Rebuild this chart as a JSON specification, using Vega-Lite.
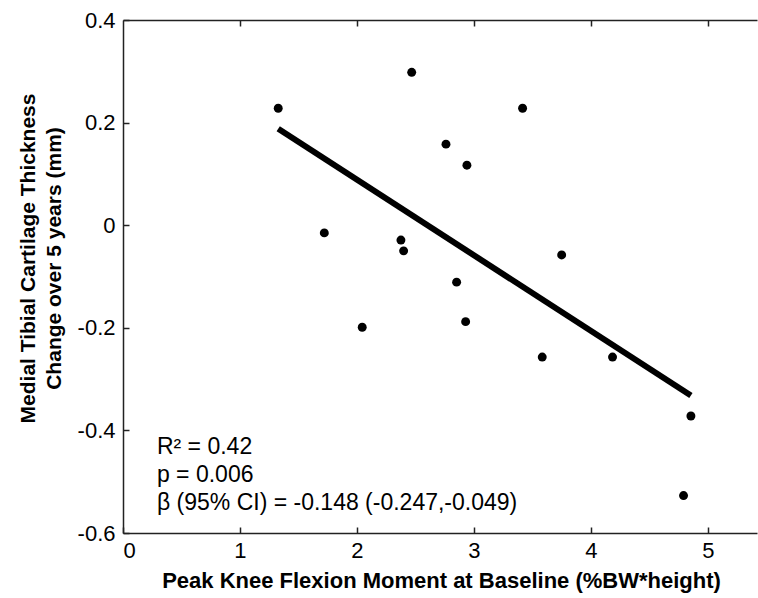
{
  "$schema": "https://vega.github.io/schema/vega-lite/v6.json",
  "width": 634,
  "height": 513,
  "autosize": {"type": "none"},
  "padding": {"left": 123, "top": 20, "right": 1, "bottom": 65},
  "background": "white",
  "config": {
    "view": {"stroke": null},
    "font": "Liberation Sans",
    "axis": {
      "grid": false,
      "domain": true,
      "domainColor": "#222222",
      "domainWidth": 1.5,
      "tickColor": "#222222",
      "tickWidth": 1.5,
      "labelColor": "black",
      "titleColor": "black",
      "labelFont": "Liberation Sans",
      "titleFont": "Liberation Sans",
      "labelFontSize": 22,
      "titleFontSize": 21,
      "titleFontWeight": "bold"
    }
  },
  "datasets": {
    "points": [
      {"moment": 1.327, "change": 0.228},
      {"moment": 2.468, "change": 0.298},
      {"moment": 2.761, "change": 0.158},
      {"moment": 2.94, "change": 0.117},
      {"moment": 1.721, "change": -0.015},
      {"moment": 2.376, "change": -0.029},
      {"moment": 2.399, "change": -0.05},
      {"moment": 2.852, "change": -0.111},
      {"moment": 2.045, "change": -0.199},
      {"moment": 2.929, "change": -0.188},
      {"moment": 3.416, "change": 0.228},
      {"moment": 3.75, "change": -0.058},
      {"moment": 3.584, "change": -0.257},
      {"moment": 4.185, "change": -0.257},
      {"moment": 4.855, "change": -0.372},
      {"moment": 4.792, "change": -0.527}
    ],
    "fit": [
      {"moment": 1.327, "change": 0.188},
      {"moment": 4.855, "change": -0.332}
    ],
    "stats": [
      {"moment": 0.29, "change": -0.446, "label": "R² = 0.42"},
      {"moment": 0.29, "change": -0.5005, "label": "p = 0.006"},
      {"moment": 0.29, "change": -0.555, "label": "β (95% CI) = -0.148 (-0.247,-0.049)"}
    ]
  },
  "layer": [
    {
      "data": {"name": "points"},
      "mark": {"type": "point", "filled": true, "color": "black", "size": 80, "opacity": 1},
      "encoding": {
        "x": {
          "field": "moment", "type": "quantitative",
          "scale": {"domain": [0, 5.42], "nice": false, "zero": false},
          "axis": {
            "orient": "bottom",
            "values": [0, 1, 2, 3, 4, 5],
            "tickSize": -6,
            "labelPadding": 13,
            "labelBaseline": "top",
            "title": "Peak Knee Flexion Moment at Baseline (%BW*height)",
            "titleFontSize": 22,
            "titleX": 318,
            "titleY": 47,
            "titleAnchor": "middle",
            "titleBaseline": "middle"
          }
        },
        "y": {
          "field": "change", "type": "quantitative",
          "scale": {"domain": [-0.6, 0.4], "nice": false, "zero": false},
          "axis": {
            "orient": "left",
            "values": [-0.6, -0.4, -0.2, 0, 0.2, 0.4],
            "labelExpr": "datum.value + ''",
            "tickSize": -6,
            "labelPadding": 14,
            "title": ["Medial Tibial Cartilage Thickness", "Change over 5 years (mm)"],
            "titleFontSize": 21,
            "titleLineHeight": 26,
            "titleAngle": -90,
            "titleX": -95,
            "titleY": 238,
            "titleAnchor": "middle",
            "titleBaseline": "middle"
          }
        }
      }
    },
    {
      "data": {"name": "fit"},
      "mark": {"type": "line", "color": "black", "strokeWidth": 6, "strokeCap": "butt"},
      "encoding": {
        "x": {"field": "moment", "type": "quantitative", "axis": null},
        "y": {"field": "change", "type": "quantitative", "axis": null}
      }
    },
    {
      "data": {"name": "stats"},
      "mark": {"type": "text", "align": "left", "baseline": "alphabetic", "fontSize": 23, "color": "black", "font": "Liberation Sans"},
      "encoding": {
        "x": {"field": "moment", "type": "quantitative", "axis": null},
        "y": {"field": "change", "type": "quantitative", "axis": null},
        "text": {"field": "label", "type": "nominal"}
      }
    },
    {
      "data": {"name": "fit"},
      "mark": {"type": "point", "opacity": 0},
      "encoding": {
        "x": {
          "field": "moment", "type": "quantitative",
          "axis": {"orient": "top", "values": [1, 2, 3, 4, 5], "tickSize": -6, "labels": false, "title": null}
        },
        "y": {"field": "change", "type": "quantitative", "axis": null}
      }
    }
  ],
  "resolve": {"axis": {"x": "independent", "y": "independent"}}
}
